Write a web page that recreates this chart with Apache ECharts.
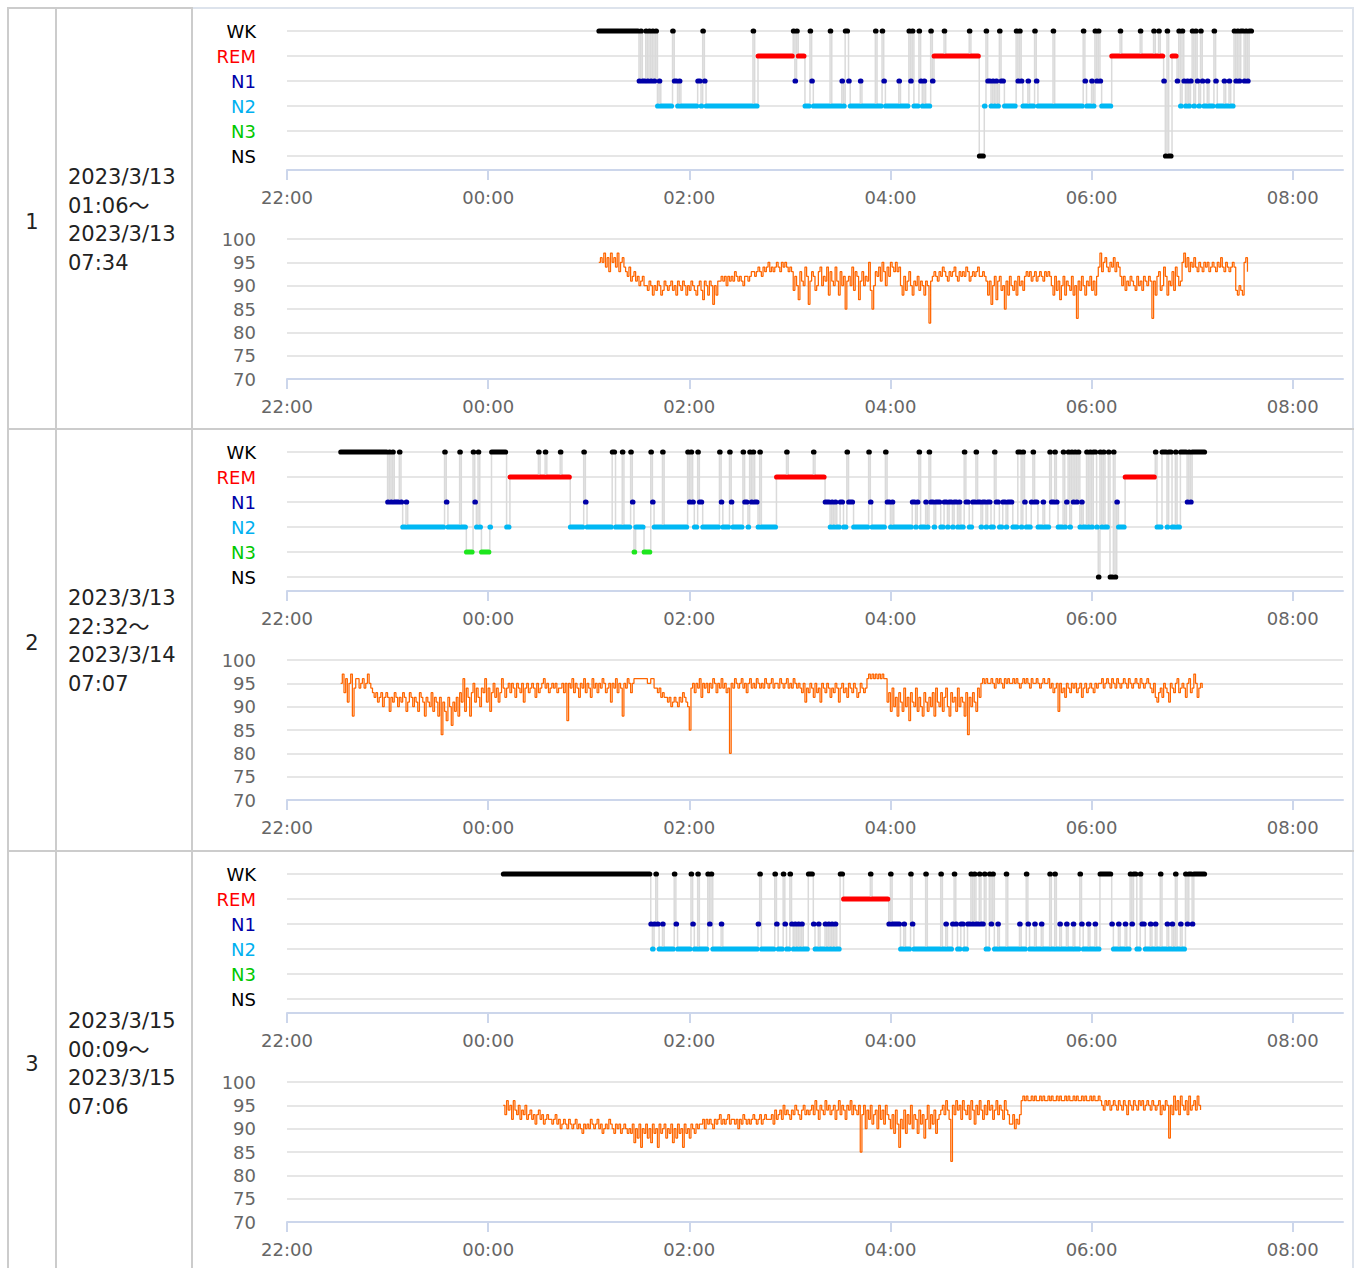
<!DOCTYPE html>
<html><head><meta charset="utf-8">
<script src="https://cdn.jsdelivr.net/npm/echarts@6/dist/echarts.min.js"></script>
<style>
html,body{margin:0;padding:0;background:#fff;}
body{width:1357px;height:1268px;position:relative;overflow:hidden;font-family:"DejaVu Sans","Noto Sans CJK JP",sans-serif;}
.b{position:absolute;background:#cccccc;}
.num{position:absolute;left:9px;width:46px;text-align:center;font-size:21px;color:#222;line-height:28px;}
.date{position:absolute;left:68px;font-size:21px;color:#222;line-height:28.6px;white-space:nowrap;}
#chart{position:absolute;left:0;top:0;width:1357px;height:1268px;}
</style></head>
<body>
<div class="b" style="left:7px;top:7px;width:2px;height:1261px"></div>
<div class="b" style="left:55px;top:7px;width:2px;height:1261px"></div>
<div class="b" style="left:191px;top:7px;width:2px;height:1261px"></div>
<div class="b" style="left:1352px;top:7px;width:2px;height:1261px;background:#dde3ec"></div>
<div class="b" style="left:7px;top:7px;width:186px;height:2px"></div>
<div class="b" style="left:193px;top:7px;width:1161px;height:2px;background:#dde3ec"></div>
<div class="b" style="left:7px;top:428px;width:1347px;height:2px"></div>
<div class="b" style="left:7px;top:850px;width:1347px;height:2px"></div>

<div class="num" style="top:208px">1</div>
<div class="date" style="top:163px">2023/3/13<br>01:06～<br>2023/3/13<br>07:34</div>
<div class="num" style="top:629px">2</div>
<div class="date" style="top:584px">2023/3/13<br>22:32～<br>2023/3/14<br>07:07</div>
<div class="num" style="top:1050px">3</div>
<div class="date" style="top:1007px">2023/3/15<br>00:09～<br>2023/3/15<br>07:06</div>

<div id="chart"></div>
<script>
// ---------------- DATA ----------------
const stageNames = ['NS', 'N3', 'N2', 'N1', 'REM', 'WK'];
const xTickLabels = ['22:00', '00:00', '02:00', '04:00', '06:00', '08:00'];
const spo2Ticks = [70, 75, 80, 85, 90, 95, 100];

// hypnogram transitions: [clock time, stage]
const hypno1 = [
['01:06','WK'],['01:30','N1'],['01:31','WK'],['01:32','N1'],['01:34','WK'],['01:35','N1'],['01:36','WK'],['01:37','N1'],['01:38','WK'],['01:39','N1'],['01:40','WK'],['01:41','N2'],['01:42','N1'],['01:43','N2'],
['01:50','WK'],['01:51','N1'],['01:53','N2'],['01:54','N1'],['01:55','N2'],['02:05','N1'],['02:07','N2'],['02:08','WK'],['02:09','N1'],['02:10','N2'],
['02:38','WK'],['02:39','N2'],['02:41','REM'],['03:02','WK'],['03:03','N1'],['03:04','WK'],['03:05','REM'],['03:09','N2'],['03:12','WK'],['03:13','N1'],['03:14','N2'],
['03:24','WK'],['03:25','N2'],['03:31','N1'],['03:32','N2'],['03:33','WK'],['03:35','N1'],['03:36','N2'],['03:42','N1'],['03:43','N2'],['03:51','WK'],['03:52','N2'],
['03:55','WK'],['03:56','N1'],['03:57','N2'],['04:05','N1'],['04:06','N2'],['04:11','WK'],['04:12','N1'],['04:13','WK'],['04:14','N2'],['04:17','WK'],['04:18','N1'],['04:19','N2'],
['04:20','N1'],['04:21','N2'],['04:24','WK'],['04:25','N1'],['04:26','REM'],['04:32','WK'],['04:33','REM'],['04:47','WK'],['04:48','REM'],['04:53','NS'],['04:56','N2'],['04:57','WK'],
['04:58','N1'],['05:00','N2'],['05:01','N1'],['05:02','N2'],['05:03','N1'],['05:04','N2'],['05:05','WK'],['05:06','N1'],['05:08','N2'],
['05:15','WK'],['05:16','N1'],['05:17','WK'],['05:18','N1'],['05:19','N2'],['05:22','N1'],['05:23','N2'],['05:26','WK'],['05:27','N1'],['05:28','N2'],['05:37','WK'],['05:38','N2'],
['05:55','WK'],['05:56','N1'],['05:57','N2'],['06:00','N1'],['06:01','N2'],['06:02','WK'],['06:03','N1'],['06:04','WK'],['06:05','N1'],['06:06','N2'],
['06:12','REM'],['06:17','WK'],['06:18','REM'],['06:29','WK'],['06:30','REM'],['06:37','WK'],['06:38','REM'],['06:40','WK'],['06:41','REM'],['06:43','N1'],['06:44','NS'],['06:45','WK'],['06:46','NS'],['06:48','REM'],
['06:51','N1'],['06:52','WK'],['06:53','N2'],['06:54','WK'],['06:55','N1'],['06:56','N2'],['06:57','N1'],['06:58','N2'],['06:59','N1'],['07:00','WK'],['07:01','N2'],['07:02','WK'],['07:03','N1'],
['07:04','N2'],['07:05','WK'],['07:06','N1'],['07:07','N2'],['07:09','N1'],['07:10','N2'],['07:13','WK'],['07:14','N1'],['07:15','N2'],['07:19','N1'],['07:20','N2'],['07:22','N1'],['07:23','N2'],
['07:25','WK'],['07:26','N1'],['07:27','WK'],['07:28','N1'],['07:29','WK'],['07:31','N1'],['07:32','WK'],['07:33','N1'],['07:34','WK']
];
const hypno1End = '07:36';

const hypno2 = [
['22:32','WK'],['23:00','N1'],['23:01','WK'],['23:02','N1'],['23:03','WK'],['23:04','N1'],['23:07','WK'],['23:08','N1'],['23:09','N2'],['23:11','N1'],['23:12','N2'],
['23:34','WK'],['23:35','N1'],['23:36','N2'],['23:43','WK'],['23:44','N2'],['23:47','N3'],['23:51','WK'],['23:52','N1'],['23:53','N2'],['23:54','WK'],['23:55','N2'],['23:56','N3'],
['00:01','N2'],['00:02','WK'],['00:11','N2'],['00:13','REM'],['00:30','WK'],['00:31','REM'],['00:34','WK'],['00:35','REM'],['00:43','WK'],['00:44','REM'],['00:49','N2'],
['00:57','WK'],['00:58','N1'],['00:59','N2'],['01:14','WK'],['01:16','N2'],['01:20','WK'],['01:21','N2'],['01:25','WK'],['01:26','N1'],['01:27','N3'],['01:28','N2'],
['01:33','N3'],['01:37','WK'],['01:38','N1'],['01:39','N2'],['01:44','WK'],['01:45','N2'],['01:59','WK'],['02:00','N1'],['02:01','WK'],['02:02','N1'],['02:03','N2'],['02:05','WK'],['02:06','N1'],['02:08','N2'],
['02:18','WK'],['02:19','N1'],['02:20','N2'],['02:24','WK'],['02:25','N1'],['02:26','N2'],['02:32','WK'],['02:33','N1'],['02:35','N2'],['02:36','WK'],['02:37','N1'],['02:38','WK'],['02:39','N1'],['02:41','N2'],['02:42','WK'],['02:43','N2'],
['02:52','REM'],['02:58','WK'],['02:59','REM'],['03:14','WK'],['03:15','REM'],['03:21','N1'],['03:24','N2'],['03:25','N1'],['03:26','N2'],['03:27','N1'],['03:28','N2'],['03:30','N1'],['03:32','N2'],
['03:34','WK'],['03:35','N1'],['03:38','N2'],['03:47','WK'],['03:48','N1'],['03:49','N2'],['03:57','WK'],['03:58','N1'],['04:00','N2'],['04:01','N1'],['04:02','N2'],
['04:13','N1'],['04:15','N2'],['04:16','N1'],['04:17','WK'],['04:18','N2'],['04:21','N1'],['04:22','N2'],['04:23','WK'],['04:24','N1'],['04:26','N2'],['04:27','N1'],['04:30','N2'],
['04:32','N1'],['04:34','N2'],['04:35','N1'],['04:37','N2'],['04:38','N1'],['04:40','N2'],['04:41','N1'],['04:42','N2'],['04:44','WK'],['04:45','N1'],['04:47','N2'],
['04:49','N1'],['04:51','WK'],['04:52','N1'],['04:54','N2'],['04:55','N1'],['04:57','N2'],['04:58','N1'],['05:00','N2'],['05:02','WK'],['05:03','N1'],['05:05','N2'],['05:07','N1'],['05:09','N2'],['05:10','N1'],['05:13','N2'],
['05:16','WK'],['05:18','N2'],['05:19','WK'],['05:20','N1'],['05:21','N2'],['05:24','N1'],['05:25','WK'],['05:26','N1'],['05:28','N2'],['05:31','N1'],['05:32','N2'],['05:35','WK'],['05:36','N1'],['05:38','WK'],['05:39','N1'],['05:40','N2'],
['05:43','WK'],['05:44','N2'],['05:45','N1'],['05:46','WK'],['05:47','N2'],['05:48','WK'],['05:49','N1'],['05:50','WK'],['05:51','N1'],['05:52','WK'],['05:53','N2'],['05:54','N1'],['05:55','N2'],
['05:57','WK'],['05:58','N2'],['05:59','WK'],['06:00','N2'],['06:01','WK'],['06:03','N2'],['06:04','NS'],['06:05','WK'],['06:06','N2'],['06:07','WK'],['06:08','N2'],['06:10','WK'],['06:11','NS'],['06:13','WK'],['06:14','NS'],['06:15','N1'],['06:16','N2'],
['06:20','REM'],['06:38','WK'],['06:39','N2'],['06:42','WK'],['06:45','N2'],['06:46','WK'],['06:48','N2'],['06:50','WK'],['06:51','N2'],['06:53','WK'],['06:57','N1'],['06:58','WK'],['06:59','N1'],['07:00','WK']
];
const hypno2End = '07:08';

const hypno3 = [
['00:09','WK'],['01:37','N1'],['01:38','N2'],['01:39','N1'],['01:40','WK'],['01:41','N1'],['01:42','N2'],['01:44','N1'],['01:45','N2'],['01:51','WK'],['01:52','N1'],['01:53','N2'],
['02:01','WK'],['02:02','N1'],['02:03','N2'],['02:05','WK'],['02:06','N2'],['02:11','WK'],['02:12','N1'],['02:13','WK'],['02:14','N2'],['02:19','N1'],['02:20','N2'],
['02:41','N1'],['02:42','WK'],['02:43','N2'],['02:51','WK'],['02:52','N1'],['02:53','N2'],['02:56','WK'],['02:57','N1'],['02:58','N2'],
['03:00','WK'],['03:01','N1'],['03:02','N2'],['03:03','N1'],['03:04','N2'],['03:05','N1'],['03:06','N2'],['03:07','N1'],['03:08','N2'],
['03:11','WK'],['03:14','N1'],['03:15','N2'],['03:17','N1'],['03:18','N2'],['03:21','N1'],['03:22','N2'],['03:23','N1'],['03:24','N2'],['03:25','N1'],['03:26','N2'],['03:27','N1'],['03:28','N2'],
['03:30','WK'],['03:32','REM'],['03:48','WK'],['03:49','REM'],['03:59','N1'],['04:00','WK'],['04:01','N1'],['04:06','N2'],['04:08','N1'],['04:09','N2'],
['04:12','WK'],['04:13','N1'],['04:14','N2'],['04:21','WK'],['04:22','N2'],['04:30','WK'],['04:31','N2'],['04:33','N1'],['04:34','N2'],['04:37','N1'],['04:38','WK'],['04:39','N1'],['04:40','N2'],['04:42','N1'],['04:44','N2'],['04:46','N1'],
['04:48','WK'],['04:49','N1'],['04:50','WK'],['04:51','N1'],['04:53','WK'],['04:54','N1'],['04:56','WK'],['04:57','N2'],['04:59','WK'],['05:00','N1'],['05:01','WK'],['05:02','N2'],['05:04','N1'],['05:05','N2'],
['05:09','WK'],['05:10','N2'],['05:17','N1'],['05:18','N2'],['05:21','WK'],['05:22','N1'],['05:23','N2'],['05:26','N1'],['05:27','N2'],['05:30','N1'],['05:31','N2'],['05:35','WK'],['05:36','N2'],['05:38','WK'],['05:39','N2'],
['05:41','N1'],['05:42','N2'],['05:45','N1'],['05:46','N2'],['05:49','N1'],['05:50','N2'],['05:53','WK'],['05:54','N1'],['05:55','N2'],['05:58','N1'],['05:59','N2'],['06:02','N1'],['06:03','N2'],
['06:05','WK'],['06:12','N1'],['06:13','N2'],['06:16','N1'],['06:17','N2'],['06:20','N1'],['06:21','N2'],['06:23','WK'],['06:24','N1'],['06:25','WK'],['06:27','N2'],['06:29','WK'],['06:30','N1'],['06:32','N2'],
['06:35','N1'],['06:36','N2'],['06:38','N1'],['06:39','N2'],['06:41','WK'],['06:42','N2'],['06:45','N1'],['06:46','N2'],['06:48','N1'],['06:49','N2'],['06:50','WK'],['06:51','N2'],['06:53','N1'],['06:54','N2'],
['06:56','WK'],['06:57','N1'],['06:58','WK'],['07:00','N1'],['07:01','WK']
];
const hypno3End = '07:08';

// SpO2 samples, one per minute from the start time
const spo2Step = 1;
const spo2Start1 = '01:06';
const spo2Night1 = [
95,96,95,97,94,96,93,97,95,96,94,97,93,95,96,94,
93,92,94,91,92,93,91,92,90,91,92,90,
90,89,91,90,88,90,89,91,90,88,89,91,90,89,90,91,89,90,88,91,90,89,91,90,88,90,89,91,90,89,88,90,91,89,
87,91,90,88,91,90,86,90,88,91,
91,92,91,92,90,92,91,92,91,93,92,91,92,91,90,92,92,91,92,93,
93,92,93,94,93,92,94,93,94,95,93,94,93,94,95,94,93,95,94,95,94,93,94,93,
89,92,90,87,93,91,90,94,92,86,91,93,92,89,90,93,94,90,92,91,94,88,93,91,90,94,
91,88,93,90,92,85,91,92,90,94,89,93,92,87,91,93,90,92,91,95,89,85,90,93,92,94,91,95,93,90,94,92,95,94,93,95,93,94,
90,88,92,89,91,93,90,88,91,90,92,89,91,90,88,91,90,82,
91,92,93,92,91,93,92,94,93,92,91,93,92,93,94,92,91,93,92,93,92,94,93,91,92,93,92,93,94,92,
92,93,92,91,
88,91,86,90,92,87,91,92,89,90,85,91,88,92,90,89,91,88,92,90,91,89,92,93,
92,93,91,92,93,91,92,93,92,91,93,92,93,92,
90,88,92,89,91,87,90,92,88,91,90,89,92,88,90,83,91,89,92,90,88,91,90,92,89,91,88,92,
94,97,93,95,96,94,93,95,94,96,93,95,94,92,
90,92,89,91,90,92,91,90,89,92,90,91,89,92,91,90,92,91,
83,91,88,92,93,89,90,94,92,88,91,90,93,89,94,92,90,91,
95,97,94,96,93,95,94,96,
94,93,95,94,93,95,94,95,93,94,95,94,93,95,94,96,94,93,95,94,93,94,95,94,
89,88,90,89,88,95,96,93
];
const spo2Start2 = '22:32';
const spo2Night2 = [
95,97,93,96,91,95,97,88,94,96,
96,94,95,96,94,95,97,95,94,
93,92,93,91,92,93,90,92,93,92,89,92,91,93,92,90,92,91,93,92,89,91,93,92,90,92,91,89,93,92,91,88,92,91,
90,93,89,92,91,88,92,84,91,89,87,92,90,86,91,89,92,88,
93,91,96,89,94,92,88,93,95,91,94,92,90,94,93,96,91,94,89,93,95,92,94,91,93,96,94,92,
94,95,93,95,94,92,95,94,93,95,91,94,95,93,94,95,94,92,95,93,94,95,96,94,95,93,94,95,94,95,93,94,
94,95,93,95,87,95,94,96,93,95,94,92,95,94,96,93,95,94,92,96,94,95,93,95,94,96,95,93,94,95,91,95,94,96,93,95,94,88,95,94,96,95,93,95,
96,96,96,96,96,96,96,96,95,95,96,96,
94,94,93,94,92,93,92,
92,91,92,90,91,92,91,90,92,91,93,92,91,90,85,
94,95,93,95,94,96,92,95,94,95,93,95,94,96,95,93,95,94,96,94,95,93,94,80,
95,94,96,95,94,95,96,94,95,93,95,96,94,95,94,96,95,94,95,94,96,95,94,95,96,94,95,95,94,96,95,94,95,96,94,95,94,96,95,94,95,
94,93,95,91,94,93,95,94,92,95,93,94,91,95,94,93,95,94,92,94,93,95,94,91,94,95,93,94,92,95,94,93,95,94,92,93,95,94,93,94,
96,97,96,97,96,97,96,97,96,97,96,96,
91,93,89,94,90,92,88,93,91,89,94,90,92,87,93,91,90,94,89,92,90,88,93,91,89,92,90,93,88,94,91,90,93,89,92,94,90,88,93,91,92,89,94,90,92,91,88,93,84,92,90,93,91,89,94,92,
95,96,95,96,95,95,96,95,94,96,95,96,95,94,96,95,96,95,95,96,95,96,95,94,95,96,95,96,95,94,96,95,95,96,95,94,95,96,95,95,96,
94,95,93,94,95,89,95,93,94,92,95,94,93,95,94,95,93,94,95,92,94,95,93,94,95,94,93,95,94,95,
95,96,94,95,96,95,94,96,95,94,96,95,94,95,96,95,94,96,95,94,95,96,95,94,96,95,94,95,96,95,
94,93,95,92,91,93,94,92,95,94,93,91,95,94,93,95,96,93,94,95,94,92,95,96,93,94,97,95,92,94,95,94
];
const spo2Start3 = '00:09';
const spo2Night3 = [
95,93,96,94,95,92,96,94,93,95,92,94,93,95,92,93,94,92,93,91,93,94,92,93,91,92,93,92,
92,91,92,93,91,92,90,91,92,91,90,92,91,90,91,92,90,91,90,89,91,90,91,90,92,91,90,91,92,90,91,89,90,91,90,92,91,90,89,91,90,91,89,90,91,90,89,90,
89,91,87,90,88,91,86,90,89,91,88,90,87,91,89,90,86,91,89,90,91,88,90,89,91,87,90,88,91,89,90,86,91,89,90,88,91,90,89,91,90,91,
91,92,90,92,91,92,91,90,92,91,92,93,91,92,91,92,93,91,92,92,91,92,90,92,91,93,92,91,92,91,92,93,92,91,92,93,91,92,93,92,92,
92,93,91,94,92,93,94,92,95,93,94,93,92,94,93,95,94,93,92,94,95,93,94,93,
94,95,93,96,94,92,95,94,93,96,94,95,93,94,95,92,94,96,93,95,94,92,95,94,96,93,95,94,93,95,
85,93,95,90,94,92,95,91,93,94,90,95,92,94,91,95,93,92,
90,93,89,94,91,86,92,90,94,89,93,91,95,90,93,92,89,94,91,93,88,92,95,90,93,91,94,89,92,93,
94,95,93,96,94,92,83,95,93,96,94,95,92,96,94,93,95,92,96,94,91,95,93,96,94,92,95,93,96,94,95,92,94,96,93,95,94,92,96,94,93,91,
91,93,90,92,91,93,
96,97,96,97,96,96,97,96,97,96,96,97,96,97,96,96,97,96,97,96,96,97,96,97,96,96,97,96,97,96,96,97,96,97,96,96,97,96,97,96,96,97,96,97,96,96,97,
96,95,94,96,95,96,94,95,96,95,94,96,95,94,96,95,93,96,95,94,96,95,94,96,95,96,94,95,96,95,94,96,95,94,95,96,93,95,94,96,95,88,
95,93,97,94,96,93,97,95,94,96,93,97,94,95,96,94,97,95,94
];

// --------------- BUILD ---------------
const stageIndex = {NS:0, N3:1, N2:2, N1:3, REM:4, WK:5};
const stageColor = {WK:'#000000', REM:'#ff0000', N1:'#0000a8', N2:'#00b8f4', N3:'#1ee61e', NS:'#000000'};
const labelColor = ['#000000', '#00c800', '#00b0f0', '#0000a8', '#ff0000', '#000000'];
const FONT = '"DejaVu Sans", "Noto Sans CJK JP", sans-serif';

function toMin(s) { const [h, m] = s.split(':').map(Number); return ((h - 22 + 24) % 24) * 60 + m; }
function clock(v) { const h = (22 + Math.floor(v / 60)) % 24; const m = v % 60; return String(h).padStart(2,'0') + ':' + String(m).padStart(2,'0'); }

const nights = [
  {hyp: hypno1, end: hypno1End, spo: spo2Night1, start: spo2Start1},
  {hyp: hypno2, end: hypno2End, spo: spo2Night2, start: spo2Start2},
  {hyp: hypno3, end: hypno3End, spo: spo2Night3, start: spo2Start3}
];
const offsets = [0, 421, 843];
const tickVals = xTickLabels.map(toMin);

const grids = [], xAxes = [], yAxes = [], series = [];
const rich = {};
for (let i = 0; i < 6; i++) rich['s' + i] = {color: labelColor[i], fontSize: 18, fontFamily: FONT};

function xAxisCfg(gi, off) {
  return {
    type: 'value', gridIndex: gi, min: 0, max: 630, offset: off, position: 'bottom',
    axisLine: {show: true, onZero: false, lineStyle: {color: '#ccd6eb', width: 2}},
    axisTick: {show: true, length: 10, lineStyle: {color: '#ccd6eb', width: 2}, customValues: tickVals},
    axisLabel: {customValues: tickVals, formatter: v => clock(v), color: '#666666', fontSize: 18, fontFamily: FONT, margin: 18},
    splitLine: {show: false}
  };
}

nights.forEach((n, r) => {
  const off = offsets[r];
  const g1 = grids.length;
  grids.push({left: 287, right: 14, top: 31 + off, height: 125});
  grids.push({left: 287, right: 14, top: 239 + off, height: 140});
  xAxes.push(xAxisCfg(g1, 14));
  xAxes.push(xAxisCfg(g1 + 1, 0));
  yAxes.push({
    type: 'value', gridIndex: g1, min: 0, max: 5, interval: 1,
    axisLine: {show: false}, axisTick: {show: false},
    axisLabel: {margin: 31, formatter: v => '{s' + v + '|' + stageNames[v] + '}', rich: rich},
    splitLine: {show: true, lineStyle: {color: '#e6e6e6', width: 2}}
  });
  yAxes.push({
    type: 'value', gridIndex: g1 + 1, min: spo2Ticks[0], max: spo2Ticks[spo2Ticks.length - 1], interval: 5,
    axisLine: {show: false}, axisTick: {show: false},
    axisLabel: {margin: 31, color: '#666666', fontSize: 18, fontFamily: FONT},
    splitLine: {show: true, lineStyle: {color: '#e6e6e6', width: 2}}
  });
  // gray transition line
  const endT = toMin(n.end);
  const stepData = n.hyp.map(p => [toMin(p[0]), stageIndex[p[1]]]);
  stepData.push([endT, stageIndex[n.hyp[n.hyp.length - 1][1]]]);
  series.push({
    type: 'line', xAxisIndex: g1, yAxisIndex: g1, data: stepData, step: 'end',
    symbol: 'none', lineStyle: {color: '#dadada', width: 1.5}, silent: true, animation: false, z: 2
  });
  // colored stage bars
  const segs = n.hyp.map((p, k) => {
    const t0 = toMin(p[0]);
    const t1 = k + 1 < n.hyp.length ? toMin(n.hyp[k + 1][0]) : endT;
    return {value: [t0, t1, stageIndex[p[1]]], itemStyle: {color: stageColor[p[1]]}};
  });
  series.push({
    type: 'custom', xAxisIndex: g1, yAxisIndex: g1, data: segs, animation: false, z: 3, silent: true,
    encode: {x: [0, 1], y: 2},
    renderItem: (params, api) => {
      const y = api.value(2);
      const p0 = api.coord([api.value(0), y]);
      const p1 = api.coord([Math.max(api.value(1) - 0.5, api.value(0)), y]);
      return {type: 'rect', shape: {x: p0[0] - 2.4, y: p0[1] - 2.6, width: (p1[0] - p0[0]) + 4.8, height: 5.2, r: 2.6},
              style: {fill: api.visual('color')}};
    }
  });
  // SpO2
  const s0 = toMin(n.start);
  series.push({
    type: 'line', xAxisIndex: g1 + 1, yAxisIndex: g1 + 1,
    data: n.spo.map((v, k) => [s0 + k * spo2Step, v]), step: 'end',
    symbol: 'none', lineStyle: {color: '#ff6600', width: 1.25}, animation: false, silent: true, z: 3
  });
});

const chart = echarts.init(document.getElementById('chart'), null, {renderer: 'svg'});
chart.setOption({animation: false, grid: grids, xAxis: xAxes, yAxis: yAxes, series: series});
</script>
</body></html>
